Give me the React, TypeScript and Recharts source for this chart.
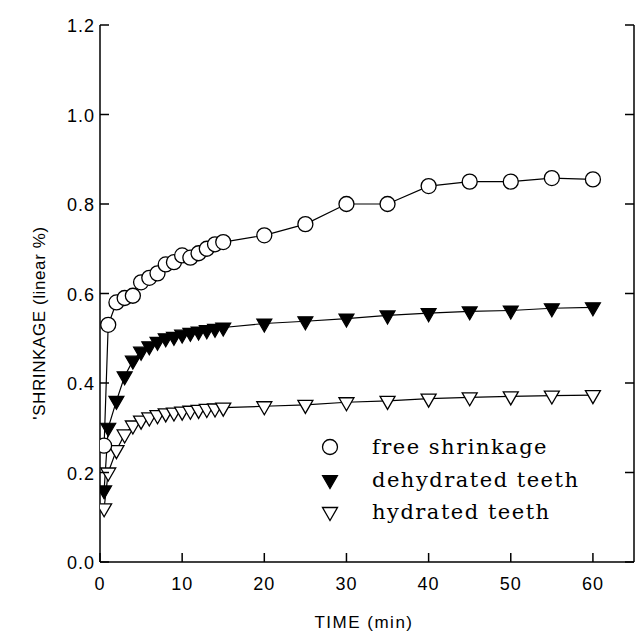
import { LineChart, Line, XAxis, YAxis } from "recharts"

const times = [0.5, 1, 2, 3, 4, 5, 6, 7, 8, 9, 10, 11, 12, 13, 14, 15, 20, 25, 30, 35, 40, 45, 50, 55, 60]
const freeShrinkage = [0.26, 0.53, 0.58, 0.59, 0.595, 0.625, 0.635, 0.645, 0.665, 0.67, 0.685, 0.68, 0.69, 0.7, 0.71, 0.715, 0.73, 0.755, 0.8, 0.8, 0.84, 0.85, 0.85, 0.858, 0.855]
const dehydratedTeeth = [0.16, 0.3, 0.36, 0.415, 0.45, 0.47, 0.482, 0.492, 0.5, 0.503, 0.508, 0.512, 0.515, 0.518, 0.521, 0.524, 0.533, 0.538, 0.544, 0.551, 0.556, 0.56, 0.562, 0.567, 0.569]
const hydratedTeeth = [0.12, 0.2, 0.25, 0.285, 0.305, 0.316, 0.323, 0.328, 0.332, 0.334, 0.336, 0.338, 0.34, 0.342, 0.343, 0.345, 0.348, 0.351, 0.357, 0.36, 0.365, 0.368, 0.37, 0.372, 0.373]
const xTicks = [0, 10, 20, 30, 40, 50, 60]
const yTicks = [0, 0.2, 0.4, 0.6, 0.8, 1.0, 1.2]

const data = times.map((t, i) => ({
  time: t,
  free: freeShrinkage[i],
  dehydrated: dehydratedTeeth[i],
  hydrated: hydratedTeeth[i],
}))

const tickFont = { fontFamily: "'Liberation Sans', Arial, sans-serif", fontSize: 18, letterSpacing: 1 }
const TL = 9

const triPoints = (cx: number, cy: number) =>
  `${cx - 7.5},${cy - 4.5} ${cx + 7.5},${cy - 4.5} ${cx},${cy + 8.5}`

const circleDot = (p: any) => (
  <circle key={`c-${p.index}`} cx={p.cx} cy={p.cy} r={7.5} fill="#fff" stroke="#000" strokeWidth={1.3} />
)
const filledTri = (p: any) => (
  <polygon key={`f-${p.index}`} points={triPoints(p.cx, p.cy)} fill="#000" stroke="#000" strokeWidth={1.2} />
)
const openTri = (p: any) => (
  <polygon key={`o-${p.index}`} points={triPoints(p.cx, p.cy)} fill="#fff" stroke="#000" strokeWidth={1.3} />
)

const bottomTick = (p: any) => (
  <g>
    <line x1={p.x} x2={p.x} y1={p.y} y2={p.y - TL} stroke="#000" strokeWidth={1.5} />
    <text x={p.x} y={p.y + 28} textAnchor="middle" fill="#000" style={tickFont}>
      {p.payload.value}
    </text>
  </g>
)
const topTick = (p: any) => (
  <line x1={p.x} x2={p.x} y1={p.y} y2={p.y + TL} stroke="#000" strokeWidth={1.5} />
)
const leftTick = (p: any) => (
  <g>
    <line x1={p.x} x2={p.x + TL} y1={p.y} y2={p.y} stroke="#000" strokeWidth={1.5} />
    <text x={p.x - 5} y={p.y + 7} textAnchor="end" fill="#000" style={tickFont}>
      {Number(p.payload.value).toFixed(1)}
    </text>
  </g>
)
const rightTick = (p: any) => (
  <line x1={p.x} x2={p.x - TL} y1={p.y} y2={p.y} stroke="#000" strokeWidth={1.5} />
)

const legendFont = { fontFamily: "'DejaVu Serif', serif", fontSize: 21, letterSpacing: 1.5 }

export default function App() {
  return (
    <div style={{ position: "relative", width: 636, height: 635 }}>
      <style>{"body{margin:0}"}</style>
      <LineChart width={636} height={635} data={data} margin={{ top: 25, right: 0, bottom: 0, left: 0 }}>
        <XAxis
          dataKey="time"
          type="number"
          domain={[0, 65]}
          ticks={xTicks}
          height={73}
          tickSize={0}
          tickMargin={0}
          tickLine={false}
          tick={bottomTick}
          axisLine={{ stroke: "#000", strokeWidth: 1.5 }}
          allowDataOverflow
        />
        <XAxis
          xAxisId="top"
          orientation="top"
          type="number"
          domain={[0, 65]}
          ticks={xTicks}
          height={0}
          tickSize={0}
          tickMargin={0}
          tickLine={false}
          tick={topTick}
          axisLine={{ stroke: "#000", strokeWidth: 1.5 }}
          allowDataOverflow
        />
        <YAxis
          type="number"
          domain={[0, 1.2]}
          ticks={yTicks}
          width={100}
          tickSize={0}
          tickMargin={0}
          tickLine={false}
          tick={leftTick}
          axisLine={{ stroke: "#000", strokeWidth: 1.5 }}
          allowDataOverflow
        />
        <YAxis
          yAxisId="right"
          orientation="right"
          type="number"
          domain={[0, 1.2]}
          ticks={yTicks}
          width={2}
          tickSize={0}
          tickMargin={0}
          tickLine={false}
          tick={rightTick}
          axisLine={{ stroke: "#000", strokeWidth: 1.5 }}
          allowDataOverflow
        />
        <Line dataKey="hydrated" stroke="#000" strokeWidth={1.2} dot={openTri} activeDot={false} isAnimationActive={false} />
        <Line dataKey="dehydrated" stroke="#000" strokeWidth={1.2} dot={filledTri} activeDot={false} isAnimationActive={false} />
        <Line dataKey="free" stroke="#000" strokeWidth={1.2} dot={circleDot} activeDot={false} isAnimationActive={false} />
      </LineChart>
      <svg width={636} height={635} style={{ position: "absolute", left: 0, top: 0, pointerEvents: "none" }}>
        <text
          transform="translate(39,323) rotate(-90)"
          textAnchor="middle"
          dominantBaseline="central"
          fill="#000"
          style={{ fontFamily: "'Liberation Sans', Arial, sans-serif", fontSize: 17, letterSpacing: 0.6 }}
        >
          'SHRINKAGE (linear %)
        </text>
        <text
          x={364}
          y={628}
          textAnchor="middle"
          fill="#000"
          style={{ fontFamily: "'Liberation Sans', Arial, sans-serif", fontSize: 17, letterSpacing: 1.5 }}
        >
          TIME (min)
        </text>
        <circle cx={330} cy={447} r={7.5} fill="#fff" stroke="#000" strokeWidth={1.3} />
        <text x={372} y={454} fill="#000" style={legendFont}>free shrinkage</text>
        <polygon points={triPoints(330, 480)} fill="#000" stroke="#000" strokeWidth={1.2} />
        <text x={372} y={487} fill="#000" style={legendFont}>dehydrated teeth</text>
        <polygon points={triPoints(330, 512)} fill="#fff" stroke="#000" strokeWidth={1.3} />
        <text x={372} y={519} fill="#000" style={legendFont}>hydrated teeth</text>
      </svg>
    </div>
  )
}
